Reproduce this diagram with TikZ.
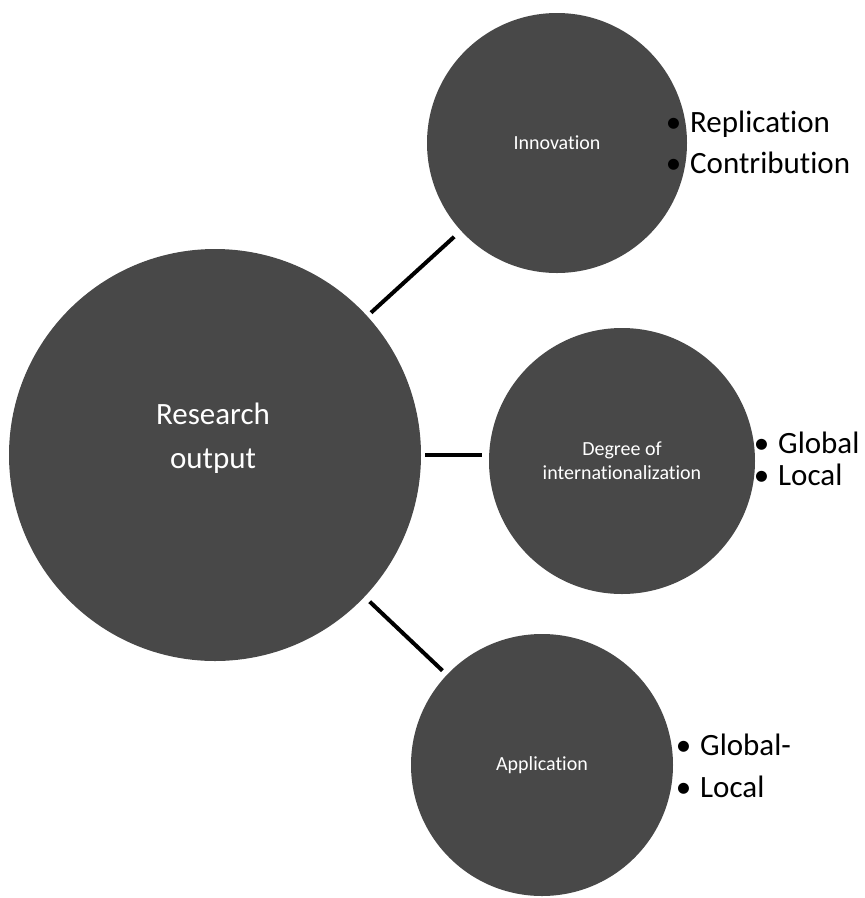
\documentclass[tikz,border=0pt]{standalone}
\usepackage{fontspec}
\setmainfont{Carlito}[Ligatures=NoCommon]
\definecolor{bubblegray}{RGB}{72,72,72}
\newcommand{\bul}{\llap{\textbullet\hspace{9pt}}}

\tikzset{
    bubble/.style={circle, fill=bubblegray, text=white, align=center, inner sep=0pt},
    link/.style={line width=4pt, black},
    point/.style={anchor=base west, inner sep=0pt, font=\fontsize{31}{38}\selectfont},
}

\begin{document}
\begin{tikzpicture}[x=1pt, y=-1pt]
    \useasboundingbox (0, 0) rectangle (865, 898);
    \node[bubble, minimum size=412pt] (output) at (215, 455) {};
    \node[align=center, text=white, font=\fontsize{31}{44}\selectfont] (outtext) at (213, 438) {Research\\output};
    \node[bubble, minimum size=260pt, font=\fontsize{20}{24}\selectfont] (innov) at (557, 143) {Innovation};
    \node[bubble, minimum size=266pt, font=\fontsize{20}{24}\selectfont] (degree) at (622, 461) {Degree of\\internationalization};
    \node[bubble, minimum size=262pt, font=\fontsize{20}{24}\selectfont] (appl) at (542, 765) {Application};

    \draw[link, shorten <=5pt, shorten >=9pt] (output) -- (innov);
    \draw[link, shorten <=4pt, shorten >=7pt] (output.east) -- (output.east -| degree.west);
    \draw[link, shorten <=7pt, shorten >=6pt] (output) -- (appl);

    \node[point] (repl) at (690, 132) {\bul Replication};
    \node[point] (contr) at (690, 173) {\bul Contribution};
    \node[point] (glob) at (778, 453) {\bul Global};
    \node[point] (loc) at (778, 485) {\bul Local};
    \node[point] (globb) at (700, 755) {\bul Global-};
    \node[point] (locc) at (700, 797) {\bul Local};
\end{tikzpicture}
\end{document}
